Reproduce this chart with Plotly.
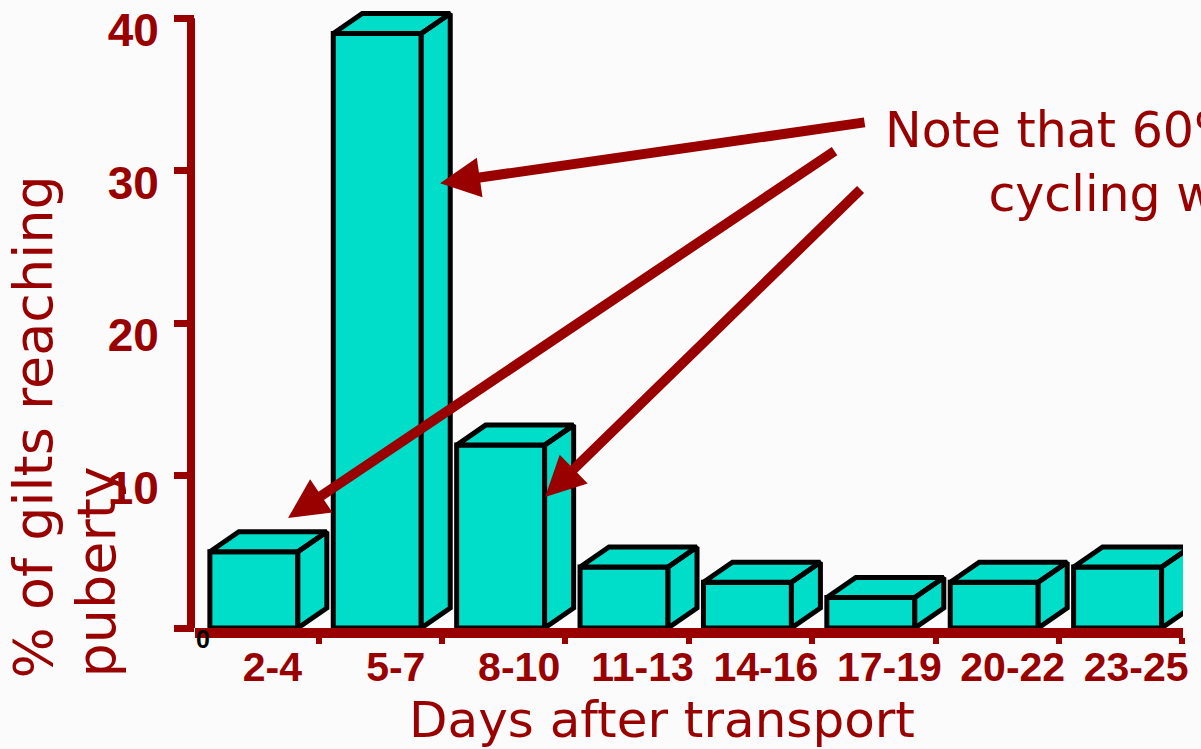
import plotly.graph_objects as go

categories = ["2-4", "5-7", "8-10", "11-13", "14-16", "17-19", "20-22", "23-25"]
values = [5, 39, 12, 4, 3, 2, 3, 4]
y_ticks = [0, 10, 20, 30, 40]
y_ticktext = ["", "10", "20", "30", "40"]
y_axis_top = 40

RED = "#990000"
TEAL = "#00DDC8"
n = len(categories)
xs = list(range(n))
W = 0.713     # front face width (x units)
DX = 0.235    # depth offset x (x units)
DY = 1.31     # depth offset y (y units)

fig = go.Figure()
fig.add_trace(go.Bar(x=xs, y=values, width=W, marker=dict(color=TEAL, line=dict(color="black", width=5)),
                     hoverinfo="skip", showlegend=False))

px_, py_ = [], []
for i, v in zip(xs, values):
    l, r = i - W / 2, i + W / 2
    # top face
    px_ += [l, r, r + DX, l + DX, l, None]
    py_ += [v, v, v + DY, v + DY, v, None]
    # side face
    px_ += [r, r + DX, r + DX, r, r, None]
    py_ += [0, DY, v + DY, v, 0, None]
fig.add_trace(go.Scatter(x=px_, y=py_, mode="lines", fill="toself", fillcolor=TEAL,
                         line=dict(color="black", width=5), hoverinfo="skip", showlegend=False))

fig.update_layout(
    width=1201, height=749,
    margin=dict(l=195, r=18, t=3, b=121, autoexpand=False),
    paper_bgcolor="#fbfbfb", plot_bgcolor="rgba(0,0,0,0)",
    showlegend=False,
    xaxis=dict(range=[-0.477, 7.53], showgrid=False, zeroline=False, automargin=False,
               showline=True, linecolor=RED, linewidth=10,
               tickmode="array", tickvals=[i + 0.15 for i in xs], ticktext=categories,
               ticks="", ticklabelstandoff=-6,
               tickfont=dict(family="Liberation Sans", size=41, color=RED, weight="bold"),
               minor=dict(tickmode="array", tickvals=[i + 0.525 for i in xs], ticks="outside",
                          ticklen=6, tickwidth=6, tickcolor=RED)),
    yaxis=dict(range=[0, 41.0], showgrid=False, zeroline=False, automargin=False,
               showline=False,
               tickmode="array", tickvals=y_ticks, ticktext=y_ticktext,
               ticks="outside", ticklen=20, tickwidth=7, tickcolor=RED,
               ticklabelstandoff=6, ticklabelshift=12, ticklabeloverflow="allow",
               tickfont=dict(family="Liberation Sans", size=46, color=RED, weight="bold")),
)

# vertical axis line, drawn only up to the top tick
fig.add_shape(type="line", xref="paper", yref="y", xsizemode="pixel", xanchor=0, x0=-4, x1=-4,
              y0=0, y1=y_axis_top, line=dict(color=RED, width=8))

arrow_common = dict(showarrow=True, arrowhead=2, arrowsize=0.8, arrowwidth=10, arrowcolor=RED,
                    text="", xref="x", yref="y", axref="pixel", ayref="pixel")
fig.add_annotation(x=1.509, y=29.18, ax=426, ay=-61, **arrow_common)
fig.add_annotation(x=0.277, y=7.21, ax=548, ay=-368, **arrow_common)
fig.add_annotation(x=2.36, y=8.59, ax=317, ay=-309, **arrow_common)

# paper coordinates: plot area spans y pixels 3..628
def py(p):
    return (628 - p) / 625.0

fig.add_annotation(text="Note that 60% of the gilts were<br>cycling within 10 days.",
                   xref="paper", yref="paper", x=0.6964, y=py(100), xanchor="left", yanchor="top",
                   align="center", showarrow=False,
                   font=dict(family="DejaVu Sans", size=49, color=RED))

fig.add_annotation(text="Days after transport", xref="paper", yref="paper", x=0.4727, y=py(689),
                   xanchor="center", yanchor="top", showarrow=False,
                   font=dict(family="DejaVu Sans", size=50, color=RED))

fig.add_annotation(text="% of gilts reaching", xref="paper", yref="paper", x=-0.163, y=py(680),
                   xanchor="center", yanchor="bottom", textangle=-90, showarrow=False,
                   font=dict(family="DejaVu Sans", size=54, color=RED))
fig.add_annotation(text="puberty", xref="paper", yref="paper", x=-0.1002, y=py(680),
                   xanchor="center", yanchor="bottom", textangle=-90, showarrow=False,
                   font=dict(family="DejaVu Sans", size=54, color=RED))

fig.add_annotation(text="0", xref="paper", yref="paper", x=0.0086, y=py(639),
                   xanchor="center", yanchor="middle", showarrow=False,
                   font=dict(family="Liberation Sans", size=25, color="black", weight="bold"))

fig.write_html("out.html", config={"displayModeBar": False},
               post_script="document.body.style.margin='0px';")
